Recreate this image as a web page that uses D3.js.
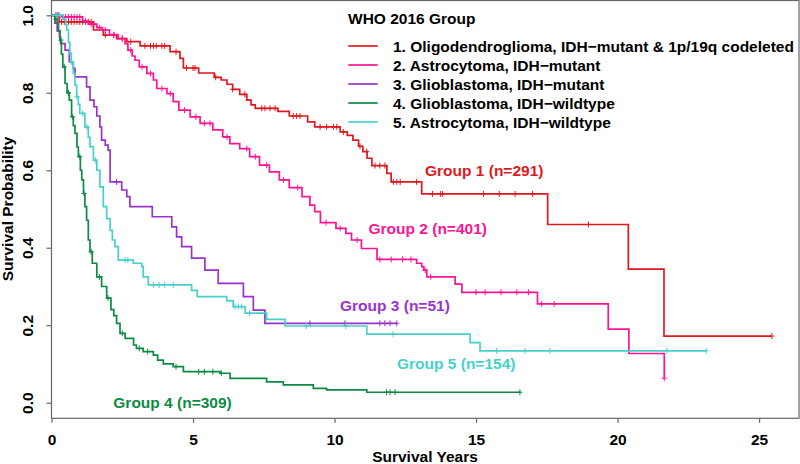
<!DOCTYPE html>
<html><head><meta charset="utf-8">
<script src="https://cdn.jsdelivr.net/npm/d3@7"></script>
<style>
body{margin:0;background:#fff}
svg{display:block}
text{font-family:"Liberation Sans",Arial,Helvetica,sans-serif;font-weight:bold}
</style>
</head><body>
<svg id="c" width="800" height="464"></svg>
<script>
// ---------- data ----------
const legendTitle = "WHO 2016 Group";
const legendNames = [
  "1. Oligodendroglioma, IDH\u2212mutant & 1p/19q codeleted",
  "2. Astrocytoma, IDH\u2212mutant",
  "3. Glioblastoma, IDH\u2212mutant",
  "4. Glioblastoma, IDH\u2212wildtype",
  "5. Astrocytoma, IDH\u2212wildtype"
];
const groupLabels = ["Group 1 (n=291)","Group 2 (n=401)","Group 3 (n=51)","Group 4 (n=309)","Group 5 (n=154)"];
const colors = ["#E0191E","#FF1493","#9933CC","#0E8A45","#48D1CC"];
const xTicks = [0,5,10,15,20,25];
const yTicks = [0,0.2,0.4,0.6,0.8,1.0];
const yTickLabels = ["0.0","0.2","0.4","0.6","0.8","1.0"];

// Group 1
const g1Time = [0,0.27,1.48,1.83,2.3,2.66,3.13,4.19,4.54,4.66,5.2,5.75,6.0,6.2,6.4,6.65,6.9,7.05,7.2,8.0,8.4,9.05,9.3,10.2,10.45,10.65,10.85,11.0,11.15,11.32,11.85,12.0,13.08,17.53,20.38,21.64];
const g1Surv = [1,0.983,0.962,0.949,0.94,0.932,0.921,0.906,0.889,0.864,0.851,0.84,0.833,0.822,0.809,0.796,0.781,0.769,0.760,0.752,0.740,0.725,0.712,0.699,0.69,0.678,0.662,0.648,0.631,0.612,0.592,0.570,0.539,0.460,0.345,0.172];
const g1End = 25.45;
const g1Censor = [0.2,0.35,0.45,0.6,0.7,0.8,0.9,1.0,1.1,1.2,1.3,1.4,1.9,2.2,2.5,2.8,3.3,3.5,3.6,3.7,3.9,4.0,4.4,4.77,5.0,5.07,5.8,6.4,6.83,7.43,7.54,7.72,7.9,8.54,8.66,8.78,9.49,9.72,9.96,10.08,10.31,10.9,11.14,11.43,11.6,11.78,12.08,12.2,12.32,12.9,13.46,13.75,13.82,15.26,15.82,16.38,17.0,18.97,25.45];

// Group 2
const g2Time = [0,0.3,1.1,1.3,1.6,1.8,2.05,2.35,2.6,2.7,2.85,2.95,3.1,3.37,3.6,3.72,4.08,4.3,4.5,4.9,5.25,5.7,6.05,6.3,6.65,7.0,7.35,7.7,8.05,8.4,8.85,9.13,9.3,9.5,10.05,10.4,10.6,10.95,11.5,12.9,13.08,13.15,13.26,14.26,14.5,17.17,19.67,20.4,21.65];
const g2Surv = [1,0.996,0.985,0.977,0.968,0.962,0.95,0.94,0.927,0.91,0.895,0.884,0.867,0.85,0.833,0.811,0.798,0.777,0.755,0.738,0.721,0.704,0.686,0.669,0.656,0.635,0.613,0.596,0.575,0.555,0.532,0.51,0.493,0.465,0.45,0.437,0.42,0.398,0.37,0.36,0.351,0.342,0.325,0.306,0.285,0.255,0.19,0.127,0.063];
const g2End = 21.65;
const g2Censor = [0.15,0.25,0.4,0.5,0.6,0.7,0.8,0.9,1.0,1.2,1.4,1.5,1.7,1.9,2.2,2.5,2.8,3.2,3.5,3.9,4.2,4.7,5.1,5.4,5.6,6.2,6.9,7.2,7.6,8.2,8.7,9.7,10.2,10.8,11.6,12.0,12.4,12.7,13.2,13.4,15.0,15.32,15.88,16.44,16.85,17.32,17.76,21.65];

// Group 3
const g3Time = [0,0.12,0.2,0.28,0.32,0.48,0.63,0.77,0.83,1.24,1.36,1.5,1.6,1.71,1.77,1.9,2.0,2.07,2.48,2.66,2.77,3.56,4.25,4.42,4.6,4.95,5.42,5.89,6.78,7.13,7.54];
const g3Surv = [1,0.98,0.96,0.945,0.927,0.91,0.88,0.863,0.841,0.815,0.781,0.764,0.74,0.712,0.678,0.665,0.652,0.570,0.549,0.532,0.506,0.48,0.454,0.428,0.403,0.373,0.342,0.308,0.274,0.239,0.205];
const g3End = 12.2;
const g3Censor = [2.3,9.13,10.37,11.6,11.78,11.96,12.2];

// Group 4
const g4Time = [0,0.12,0.2,0.25,0.3,0.35,0.4,0.48,0.55,0.63,0.71,0.77,0.83,0.9,0.95,1.02,1.07,1.13,1.18,1.24,1.3,1.36,1.44,1.6,1.77,1.95,2.1,2.2,2.3,2.42,2.6,2.9,3.0,3.24,3.6,3.75,3.95,4.3,4.66,5.95,6.31,7.6,8.19,9.25,9.72,11.14];
const g4Surv = [1,0.99,0.98,0.96,0.936,0.9,0.867,0.824,0.8,0.781,0.738,0.715,0.695,0.66,0.635,0.6,0.575,0.54,0.506,0.471,0.42,0.39,0.36,0.325,0.3,0.27,0.24,0.225,0.205,0.179,0.166,0.149,0.14,0.132,0.123,0.11,0.1,0.093,0.080,0.076,0.063,0.054,0.046,0.037,0.033,0.027];
const g4End = 16.55;
const g4Censor = [0.15,0.33,0.45,0.6,0.75,1.0,1.15,1.4,1.7,2.0,2.5,3.1,3.4,4.4,5.2,5.4,5.7,6.0,11.84,11.96,12.14,16.55];

// Group 5
const g5Time = [0,0.42,0.5,0.54,0.6,0.65,0.7,0.77,0.83,0.89,0.95,1.0,1.18,1.3,1.36,1.48,1.6,1.71,1.83,1.95,2.07,2.15,2.24,2.36,2.89,3.19,3.24,3.42,4.95,5.15,6.19,6.42,6.84,7.6,8.25,11.14,14.79,15.14];
const g5Surv = [1,0.99,0.975,0.962,0.93,0.902,0.88,0.85,0.82,0.79,0.77,0.747,0.712,0.685,0.661,0.626,0.6,0.557,0.506,0.475,0.445,0.42,0.403,0.368,0.36,0.351,0.325,0.304,0.29,0.274,0.263,0.248,0.231,0.215,0.198,0.177,0.155,0.134];
const g5End = 23.13;
const g5Censor = [0.2,0.3,0.7,0.9,1.1,1.25,1.55,2.6,2.7,3.6,3.8,4.0,4.3,6.48,6.6,6.72,7.0,9.0,10.4,12.07,15.73,16.73,17.61,21.74,23.13];

// ---------- chart ----------
const svg = d3.select("#c");
const x = d3.scaleLinear().domain([0, 26.41]).range([51.5, 799]);
const y = d3.scaleLinear().domain([0, 1]).range([402.7, 15.3]);
const FS = 15.5;

const series = [
  {t:g1Time,s:g1Surv,end:g1End,c:g1Censor},
  {t:g2Time,s:g2Surv,end:g2End,c:g2Censor},
  {t:g3Time,s:g3Surv,end:g3End,c:g3Censor},
  {t:g4Time,s:g4Surv,end:g4End,c:g4Censor},
  {t:g5Time,s:g5Surv,end:g5End,c:g5Censor}
];

// box
svg.append("rect").attr("x",51.5).attr("y",0.5).attr("width",747.5).attr("height",417.8)
  .attr("fill","none").attr("stroke","#666").attr("stroke-width",1.2);

// x axis
const xa = svg.append("g").attr("transform","translate(0,418.3)")
  .call(d3.axisBottom(x).tickValues(xTicks).tickFormat(d3.format("d")).tickSize(4.5).tickPadding(11.2));
xa.select(".domain").remove();
xa.selectAll("line").attr("stroke","#666").attr("stroke-width",1.2);
xa.selectAll("text").attr("font-size",FS).attr("fill","#000")
  .style("font-family",'"Liberation Sans",Arial,sans-serif').style("font-weight","bold");

// y axis
const ya = svg.append("g").attr("transform","translate(51.5,0)")
  .call(d3.axisLeft(y).tickValues(yTicks).tickFormat((d,i)=>yTickLabels[i]).tickSize(5));
ya.select(".domain").remove();
ya.selectAll("line").attr("stroke","#666").attr("stroke-width",1.2);
ya.selectAll("text").attr("font-size",FS).attr("fill","#000")
  .attr("transform","rotate(-90)").attr("x",0).attr("y",-18.5).attr("dy",null)
  .attr("text-anchor","middle")
  .style("font-family",'"Liberation Sans",Arial,sans-serif').style("font-weight","bold");

// curves
const line = d3.line().x(d=>x(d[0])).y(d=>y(d[1])).curve(d3.curveStepAfter);
function survAt(sr, t){ let v = sr.s[0]; for(let i=0;i<sr.t.length;i++){ if(sr.t[i]<=t) v=sr.s[i]; } return v; }
series.forEach((sr,i)=>{
  const pts = sr.t.map((t,j)=>[t,sr.s[j]]);
  pts.push([sr.end, sr.s[sr.s.length-1]]);
  svg.append("path").attr("d",line(pts)).attr("fill","none")
    .attr("stroke",colors[i]).attr("stroke-width",1.7);
  const g = svg.append("g").attr("stroke",colors[i]).attr("stroke-width",1);
  sr.c.forEach(t=>{
    const cx = x(t), cy = y(survAt(sr,t));
    g.append("line").attr("x1",cx).attr("x2",cx).attr("y1",cy-3).attr("y2",cy+3);
    g.append("line").attr("x1",cx-2.5).attr("x2",cx+2.5).attr("y1",cy).attr("y2",cy);
  });
});

// group labels
const labelPos = [[425,176],[368.5,234],[340,311],[113.3,407.5],[397,369]];
groupLabels.forEach((l,i)=>{
  svg.append("text").attr("x",labelPos[i][0]).attr("y",labelPos[i][1])
    .attr("font-size",FS).attr("fill",colors[i]).text(l);
});

// legend
svg.append("text").attr("x",348).attr("y",24).attr("font-size",FS).attr("fill","#000").text(legendTitle);
legendNames.forEach((n,i)=>{
  const ly = 46 + i*19;
  svg.append("line").attr("x1",348.3).attr("x2",377.7).attr("y1",ly).attr("y2",ly)
    .attr("stroke",colors[i]).attr("stroke-width",1.7);
  svg.append("text").attr("x",393).attr("y",ly+5.5).attr("font-size",FS).attr("fill","#000").text(n);
});

// axis titles
svg.append("text").attr("x",425).attr("y",462).attr("text-anchor","middle")
  .attr("font-size",FS).attr("fill","#000").text("Survival Years");
svg.append("text").attr("transform","translate(13,209) rotate(-90)").attr("text-anchor","middle")
  .attr("font-size",FS).attr("fill","#000").text("Survival Probability");
</script>
</body></html>
